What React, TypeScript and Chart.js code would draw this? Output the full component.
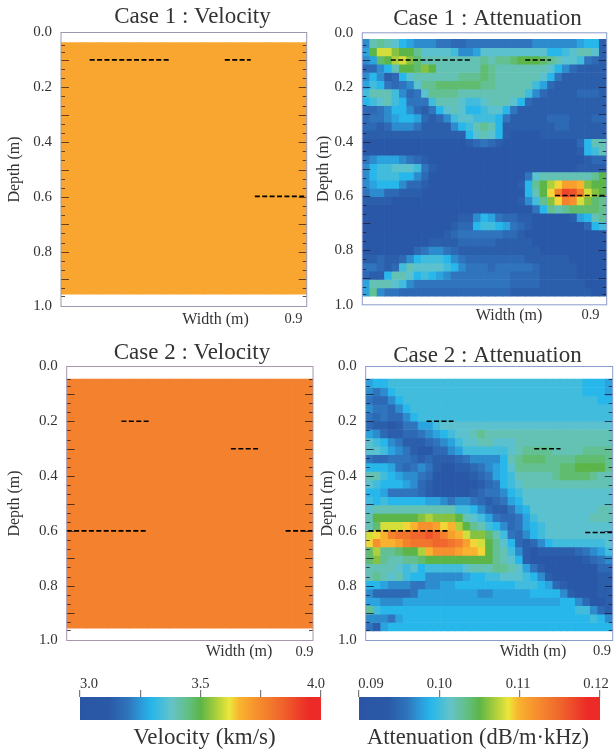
import React, { useEffect, useRef } from "react";
import { Chart, registerables } from "chart.js";

Chart.register(...registerables);

const SERIF = "'Liberation Serif', serif";
const INK = "#333333";

// Colour scale (fraction of range -> colour)
const rampStops = [0, 0.12, 0.2, 0.26, 0.3, 0.38, 0.45, 0.5, 0.56, 0.62, 0.66, 0.72, 0.83, 0.95, 1];
const rampColors = ["#2a55a5", "#2a59a8", "#2f74bc", "#2a9fdc", "#28b7ea", "#65c3c8", "#62bf82", "#5cb548", "#a5cd3c", "#ece63b", "#f9b52f", "#f7962e", "#f0682c", "#ec2a27", "#ec2a27"];

const velocityTicks = [3, 3.5, 4];
const velocityTickLabels = ["3.0", "3.5", "4.0"];
const attenuationTicks = [90, 100, 110, 120];
const attenuationTickLabels = ["0.09", "0.10", "0.11", "0.12"];

const yTickStep = 0.2;
const minorDepths = [0.045, 0.07, 0.133, 0.167, 0.233, 0.267, 0.333, 0.367, 0.433, 0.467, 0.533, 0.567, 0.633, 0.667, 0.733, 0.767, 0.833, 0.867, 0.933, 0.96];
const majorDepths = [0.1, 0.2, 0.3, 0.4, 0.5, 0.6, 0.7, 0.8, 0.9];

// Velocity (km/s), column by column across the width
const case1Velocity = [[3.69, 3.69, 3.69, 3.69, 3.69, 3.69, 3.69, 3.69, 3.69, 3.69, 3.69, 3.69]];
const case2Velocity = [[3.77, 3.77, 3.77, 3.77, 3.77, 3.77, 3.77, 3.77, 3.77, 3.77, 3.77, 3.77]];

// Attenuation, in 0.001 dB/m·kHz, row by row from the top
const case1Attenuation = [
  [97,102,103,102,101, 99,98,97,97,97, 96,96,95,95,96, 96,96,96,96,96, 96,96,96,97,97, 97,97,97,97,98, 99,99,94],
  [98,105,108,108,106, 105,105,103,101,101, 101,101,100,97,97, 98,101,101,101,101, 101,101,101,101,101, 99,99,100,101,102, 102,101,94],
  [97,98,104,105,107, 108,106,104,102,102, 102,102,102,102,102, 102,103,102,103,103, 104,105,105,105,104, 103,102,101,101,100, 96,95,94],
  [95,95,97,99,102, 105,105,104,106,105, 102,102,102,102,102, 102,104,103,102,102, 102,102,102,102,102, 101,99,97,95,94, 94,94,94],
  [97,99,97,94,95, 99,101,102,102,102, 102,102,102,103,103, 103,104,103,102,102, 102,102,102,102,101, 99,96,94,94,94, 94,94,94],
  [98,100,99,96,95, 96,97,101,103,103, 104,104,104,104,104, 104,103,103,102,102, 102,102,102,100,98, 95,94,94,94,94, 94,94,94],
  [100,102,102,102,100, 97,95,96,101,103, 103,103,103,102,102, 102,102,102,102,102, 102,102,100,97,95, 94,94,94,94,95, 95,95,94],
  [99,100,101,102,100, 99,96,96,96,100, 102,102,102,101,100, 100,101,102,102,102, 101,99,95,94,94, 94,94,94,94,94, 94,94,94],
  [95,95,96,97,99, 99,97,95,94,96, 99,101,102,101,99, 99,100,101,101,99, 96,94,94,94,94, 94,94,94,94,94, 94,94,94],
  [95,96,96,97,98, 99,99,98,95,94, 95,97,100,101,101, 100,100,100,99,96, 94,94,94,94,94, 95,95,95,94,94, 94,95,95],
  [95,95,94,95,97, 97,97,96,94,94, 94,94,97,99,100, 102,103,102,99,94, 94,94,94,94,94, 94,95,95,94,94, 94,94,94],
  [94,94,94,94,94, 94,94,94,94,94, 94,94,94,94,99, 101,102,101,99,94, 93,93,93,93,94, 94,94,94,94,94, 94,94,94],
  [93,93,93,93,93, 93,93,93,93,93, 93,93,93,93,94, 95,96,95,94,93, 93,93,93,93,93, 93,93,93,93,95, 99,102,102],
  [93,93,93,93,93, 93,93,93,93,93, 93,93,93,92,92, 92,92,92,92,92, 92,93,93,93,93, 93,93,93,93,94, 99,100,102],
  [96,97,98,98,98, 97,96,95,94,93, 93,92,92,92,92, 92,92,92,92,92, 92,93,93,93,93, 93,93,93,93,93, 94,95,95],
  [97,99,100,100,101, 101,101,100,96,94, 93,92,92,92,92, 92,92,92,92,92, 92,92,92,93,93, 93,93,93,93,94, 94,94,94],
  [97,99,100,100,100, 99,99,97,95,93, 92,92,92,92,92, 92,92,92,92,92, 92,92,96,101,102, 102,102,102,102,102, 102,103,105],
  [97,98,99,99,99, 97,95,95,94,92, 92,92,92,92,92, 92,92,92,92,92, 92,94,99,103,105, 107,109,111,111,110, 106,105,105],
  [96,97,97,95,95, 94,94,94,93,92, 92,92,92,92,92, 92,92,92,92,92, 92,93,99,102,105, 109,113,117,116,113, 108,106,105],
  [94,94,94,94,93, 93,93,93,93,93, 93,93,93,93,93, 93,93,93,93,93, 93,94,97,100,103, 106,109,113,112,108, 106,104,103],
  [92,92,92,92,92, 92,92,92,92,92, 92,92,92,92,92, 92,92,92,92,92, 93,93,93,96,99, 103,102,103,104,104, 104,104,103],
  [92,92,92,92,92, 92,92,92,92,92, 92,92,92,94,94, 97,99,98,96,95, 95,94,94,93,93, 93,93,93,94,98, 99,102,103],
  [92,92,92,92,92, 92,92,92,92,92, 93,93,94,95,95, 99,100,100,99,98, 96,95,94,93,93, 93,93,93,93,93, 95,99,100],
  [93,93,93,93,93, 93,93,93,93,93, 93,94,95,96,96, 96,96,96,96,95, 95,94,93,93,93, 93,93,93,93,93, 93,93,93],
  [93,93,93,93,93, 93,93,93,93,94, 94,94,94,95,95, 95,95,95,94,94, 94,94,94,93,93, 93,93,93,93,93, 93,93,93],
  [93,93,93,93,93, 93,93,95,96,97, 97,96,95,94,94, 94,94,94,94,94, 94,94,94,94,93, 93,93,93,93,93, 93,93,93],
  [94,94,95,94,94, 95,97,99,100,100, 100,99,97,96,95, 95,95,95,95,95, 95,95,94,94,94, 94,94,94,93,93, 93,93,93],
  [96,96,95,94,95, 100,102,101,101,101, 101,100,99,97,96, 96,96,95,96,96, 96,96,96,95,94, 94,94,94,94,93, 93,93,93],
  [95,94,94,99,102, 102,101,99,100,99, 98,97,96,96,96, 96,96,96,96,96, 95,95,95,95,94, 94,94,94,94,93, 93,93,93],
  [98,102,102,102,101, 100,97,96,96,96, 96,96,96,96,96, 96,96,96,96,96, 95,95,95,95,94, 94,94,94,94,94, 93,93,93],
  [98,103,97,96,96, 95,95,95,95,95, 95,95,95,95,95, 95,95,95,95,95, 94,94,94,94,94, 94,94,94,94,94, 94,93,93],
];

const case2Attenuation = [
  [98,99,99,100,100, 100,100,100,100,100, 100,100,100,100,100, 100,100,100,100,100, 100,100,100,100,100, 100,100,100,100,99, 99,99,98],
  [97,96,97,99,100, 100,100,100,100,100, 100,100,100,100,100, 100,100,100,100,100, 100,100,100,100,100, 100,100,100,100,99, 99,99,98],
  [96,95,95,97,99, 100,100,100,100,100, 100,100,100,100,100, 100,100,100,100,100, 100,100,100,100,100, 100,100,100,100,100, 100,99,99],
  [97,96,96,95,97, 99,100,100,100,100, 100,100,100,100,100, 100,100,100,100,100, 100,100,100,100,100, 100,100,100,100,100, 100,100,100],
  [96,95,96,95,95, 97,99,100,100,100, 100,100,100,100,100, 100,100,100,100,100, 100,100,100,100,100, 100,100,100,100,100, 100,100,100],
  [95,94,94,93,94, 96,96,98,98,100, 101,101,101,101,101, 101,101,101,101,101, 101,101,101,101,101, 101,101,101,101,101, 101,101,101],
  [98,97,95,94,94, 95,95,96,97,98, 99,100,101,101,102, 103,102,102,102,102, 102,102,102,102,102, 102,102,102,102,102, 102,102,102],
  [101,100,99,97,96, 94,94,94,95,96, 97,98,100,101,101, 102,102,101,101,101, 102,102,102,102,102, 102,102,102,102,102, 102,102,102],
  [101,101,100,98,97, 96,94,93,93,95, 95,97,98,100,100, 100,100,100,100,101, 102,103,103,103,103, 102,102,102,102,103, 103,103,103],
  [96,95,95,96,96, 96,95,94,95,94, 94,94,95,96,97, 97,97,97,99,102, 103,104,104,104,103, 103,103,103,104,104, 104,104,103],
  [99,99,99,98,96, 95,96,97,96,94, 93,93,94,94,95, 96,97,98,99,101, 103,103,103,103,103, 103,104,104,105,105, 105,105,103],
  [102,102,100,99,98, 97,97,96,95,93, 93,92,92,93,94, 95,96,98,99,100, 102,102,102,102,102, 103,104,104,104,104, 103,102,102],
  [101,100,99,99,99, 98,97,95,94,93, 92,92,92,92,93, 94,95,96,99,100, 101,102,102,102,102, 102,102,102,102,102, 102,102,102],
  [99,99,98,96,96, 96,96,95,94,93, 93,93,93,93,94, 95,96,96,97,99, 100,101,101,101,101, 101,101,101,101,101, 101,101,101],
  [100,99,100,99,99, 99,99,99,98,98, 97,96,97,97,96, 95,94,95,96,98, 99,101,101,101,101, 101,101,101,101,101, 101,101,101],
  [101,102,102,102,102, 102,102,102,102,102, 102,102,100,100,99, 97,95,94,94,96, 98,99,101,101,101, 101,101,101,101,101, 101,102,102],
  [102,105,105,105,105, 105,105,106,107,106, 106,106,105,102,101, 100,98,96,95,95, 96,98,100,101,101, 101,101,101,101,101, 102,102,102],
  [102,104,108,108,108, 109,110,112,112,111, 109,110,107,105,103, 102,100,99,97,95, 96,98,99,100,101, 101,101,101,101,101, 101,101,101],
  [108,109,110,113,114, 114,115,115,116,115, 113,111,110,108,106, 106,104,102,100,96, 95,97,99,100,101, 101,101,101,101,101, 101,101,101],
  [109,112,110,110,111, 113,114,114,114,115, 115,114,113,111,109, 108,105,103,101,99, 95,94,95,97,99, 100,100,100,100,100, 100,100,101],
  [104,107,103,103,104, 105,105,107,110,112, 112,112,111,110,110, 109,105,103,102,100, 97,94,93,94,94, 94,94,94,95,96, 97,98,100],
  [104,106,103,102,102, 103,103,104,105,105, 105,105,105,105,105, 105,105,103,102,101, 99,94,93,93,92, 92,92,92,93,94, 95,96,97],
  [102,102,102,102,101, 100,101,99,100,100, 100,100,100,101,102, 102,102,103,103,102, 101,98,96,94,93, 92,92,92,92,93, 93,95,95],
  [102,103,102,101,102, 100,99,99,97,97, 97,97,97,98,99, 99,100,100,101,101, 101,100,99,97,94, 93,93,93,93,93, 93,94,94],
  [99,99,98,97,97, 97,96,96,97,97, 98,98,99,99,99, 99,99,99,99,99, 100,100,100,99,98, 95,94,93,93,93, 93,94,94],
  [97,95,95,95,95, 95,96,98,98,98, 98,98,98,98,98, 97,97,98,98,98, 98,98,99,99,99, 99,97,94,93,93, 93,94,94],
  [98,98,97,97,97, 98,98,98,98,98, 98,98,98,98,98, 98,98,98,98,98, 98,98,98,98,98, 98,99,99,97,95, 93,93,94],
  [103,100,99,99,99, 99,99,99,99,99, 99,99,99,99,99, 99,99,99,99,99, 99,99,99,99,99, 99,99,99,100,100, 97,95,94],
  [97,97,97,96,98, 99,99,99,99,99, 99,99,99,99,99, 99,99,99,99,99, 99,99,99,99,99, 99,99,99,99,99, 100,99,97],
  [96,94,98,99,99, 99,99,99,99,99, 99,99,99,99,99, 99,99,99,99,99, 99,99,99,99,99, 99,99,99,99,99, 99,99,99],
];

// Target layers: width range (m) and depth (m)
const case1LayerWidths = [[0.105, 0.4], [0.6, 0.695], [0.71, 0.9]];
const case1LayerDepths = [0.1, 0.1, 0.598];
const case2VelocityLayerWidths = [[0.2, 0.3], [0.6, 0.7], [0, 0.29], [0.8, 0.9]];
const case2VelocityLayerDepths = [0.2, 0.3, 0.6, 0.6];
const case2LayerWidths = [[0.222, 0.32], [0.614, 0.71], [0.01, 0.303], [0.8, 0.9]];
const case2LayerDepths = [0.2, 0.3, 0.6, 0.606];

function hexToRgb(h: string) {
  return [1, 3, 5].map((i) => parseInt(h.slice(i, i + 2), 16));
}

function rampColor(t: number) {
  const v = Math.max(0, Math.min(1, t));
  let i = 0;
  while (i < rampStops.length - 2 && v > rampStops[i + 1]) i++;
  const f = (v - rampStops[i]) / (rampStops[i + 1] - rampStops[i]);
  const a = hexToRgb(rampColors[i]);
  const b = hexToRgb(rampColors[i + 1]);
  const c = a.map((x, k) => Math.round(x + (b[k] - x) * f));
  return `rgb(${c[0]},${c[1]},${c[2]})`;
}

type Txt = { text: string; x: number; y: number; size: number; color?: string };

function drawTexts(ctx: CanvasRenderingContext2D, items: Txt[]) {
  ctx.save();
  ctx.textAlign = "center";
  ctx.textBaseline = "middle";
  for (const t of items) {
    ctx.font = `${t.size}px ${SERIF}`;
    ctx.fillStyle = t.color || INK;
    ctx.fillText(t.text, t.x, t.y);
  }
  ctx.restore();
}

type PanelCfg = {
  rows: number[][];
  top: number;
  bottom: number;
  range: [number, number];
  box: { l: number; t: number; r: number; b: number };
  frame: string;
  tickColor: string;
  depthLeft: number;
  texts: Txt[];
  layerWidths: number[][];
  layerDepths: number[];
};

function panelConfig(p: PanelCfg) {
  const nRows = p.rows.length;
  const cols = p.rows[0].map((_, i) => String(i));
  const rowH = (p.bottom - p.top) / nRows;
  const datasets: any[] = p.rows.map((row, j) => ({
    type: "bar",
    xAxisID: "x",
    yAxisID: "y",
    order: 2,
    grouped: false,
    barPercentage: 1,
    categoryPercentage: 1,
    borderWidth: 0,
    data: row.map(() => [p.top + j * rowH, p.top + (j + 1) * rowH]),
    backgroundColor: row.map((v) => rampColor((v - p.range[0]) / (p.range[1] - p.range[0]))),
  }));
  p.layerWidths.forEach((w, i) => {
    datasets.push({
      type: "line",
      xAxisID: "w",
      yAxisID: "y",
      order: 1,
      data: [{ x: w[0], y: p.layerDepths[i] }, { x: w[1], y: p.layerDepths[i] }],
      borderColor: "#000000",
      borderWidth: 1.6,
      borderDash: [5, 2.4],
      pointRadius: 0,
      clip: false,
    });
  });
  const overlay = {
    id: "panelOverlay",
    afterDatasetsDraw(chart: any) {
      const { ctx, chartArea: a, scales } = chart;
      ctx.save();
      ctx.strokeStyle = p.tickColor;
      ctx.lineWidth = 1;
      const mark = (d: number, len: number) => {
        const y = Math.round(scales.y.getPixelForValue(d)) + 0.5;
        ctx.beginPath();
        ctx.moveTo(a.left, y);
        ctx.lineTo(a.left + len, y);
        ctx.moveTo(a.right, y);
        ctx.lineTo(a.right - len, y);
        ctx.stroke();
      };
      minorDepths.forEach((d) => mark(d, 4));
      majorDepths.forEach((d) => mark(d, 8));
      ctx.strokeStyle = p.frame;
      ctx.lineWidth = 1;
      ctx.strokeRect(a.left, a.top, a.right - a.left, a.bottom - a.top);
      ctx.restore();
      drawTexts(ctx, p.texts);
    },
  };
  return {
    type: "bar",
    data: { labels: cols, datasets },
    plugins: [overlay],
    options: {
      responsive: false,
      animation: false,
      events: [],
      layout: { padding: { left: p.depthLeft, top: p.box.t, right: 614 - p.box.r, bottom: 751 - p.box.b } },
      plugins: { legend: { display: false }, title: { display: false }, tooltip: { enabled: false } },
      scales: {
        x: { type: "category", display: false, offset: true, grid: { display: false } },
        w: { type: "linear", axis: "x", display: false, offset: false, min: 0, max: 0.9, grid: { display: false } },
        y: {
          type: "linear",
          position: "left",
          reverse: true,
          min: 0,
          max: 1,
          afterFit(s: any) {
            s.width = p.box.l - p.depthLeft;
          },
          grid: { display: false, drawTicks: false },
          border: { display: false },
          ticks: {
            stepSize: yTickStep,
            padding: 9,
            color: INK,
            font: { family: SERIF, size: 15 },
            callback: (v: number) => v.toFixed(1),
          },
          title: { display: true, text: "Depth (m)", color: INK, padding: 0, font: { family: SERIF, size: 16 } },
        },
      },
    },
  };
}

type BarCfg = {
  min: number;
  max: number;
  step: number;
  box: { l: number; t: number; r: number; b: number };
  ticks: number[];
  labels: string[];
  labelShift: number[];
  title: string;
  titleX: number;
  titleSize: number;
};

function colorBarConfig(c: BarCfg) {
  const overlay = {
    id: "barOverlay",
    afterDatasetsDraw(chart: any) {
      const x = chart.scales.x;
      const items: Txt[] = c.ticks.map((v, i) => ({
        text: c.labels[i],
        x: x.getPixelForValue(v) + c.labelShift[i],
        y: 684,
        size: 14.5,
      }));
      items.push({ text: c.title, x: c.titleX, y: 738, size: c.titleSize });
      drawTexts(chart.ctx, items);
    },
  };
  return {
    type: "bar",
    data: {
      labels: [c.title],
      datasets: [
        {
          data: [[c.min, c.max]],
          barPercentage: 1,
          categoryPercentage: 1,
          borderWidth: 0,
          backgroundColor(ctx: any) {
            const a = ctx.chart.chartArea;
            if (!a) return rampColors[0];
            const g = ctx.chart.ctx.createLinearGradient(a.left, 0, a.right, 0);
            rampStops.forEach((s, i) => g.addColorStop(s, rampColors[i]));
            return g;
          },
        },
      ],
    },
    plugins: [overlay],
    options: {
      indexAxis: "y",
      responsive: false,
      animation: false,
      events: [],
      layout: { padding: { left: c.box.l, top: c.box.t - 7, right: 614 - c.box.r, bottom: 751 - c.box.b } },
      plugins: { legend: { display: false }, title: { display: false }, tooltip: { enabled: false } },
      scales: {
        y: { type: "category", display: false, grid: { display: false } },
        x: {
          type: "linear",
          position: "top",
          min: c.min,
          max: c.max,
          afterFit(s: any) {
            s.height = 7;
          },
          border: { display: false },
          grid: { drawOnChartArea: false, drawTicks: true, tickLength: 7, color: "#7a7a7a", lineWidth: 1.2 },
          ticks: { display: false, stepSize: c.step },
        },
      },
    },
  };
}

const configs: any[] = [
  panelConfig({
    rows: case1Velocity,
    top: 0.037,
    bottom: 0.955,
    range: [3, 4],
    box: { l: 61, t: 32.5, r: 306.7, b: 306.5 },
    frame: "#9b97ad",
    tickColor: "rgba(70,45,30,0.85)",
    depthLeft: 5,
    layerWidths: case1LayerWidths,
    layerDepths: case1LayerDepths,
    texts: [
      { text: "Case 1 : Velocity", x: 192.5, y: 17, size: 23 },
      { text: "Width (m)", x: 215.5, y: 320, size: 16 },
      { text: "0.9", x: 293.5, y: 319, size: 14.5 },
    ],
  }),
  panelConfig({
    rows: case1Attenuation,
    top: 0.024,
    bottom: 0.968,
    range: [90, 120],
    box: { l: 362.3, t: 32.8, r: 606.7, b: 304.8 },
    frame: "#8a9ccc",
    tickColor: "rgba(30,35,60,0.85)",
    depthLeft: 314,
    layerWidths: case1LayerWidths,
    layerDepths: case1LayerDepths,
    texts: [
      { text: "Case 1 : Attenuation", x: 487.5, y: 19, size: 23 },
      { text: "Width (m)", x: 509, y: 316, size: 16 },
      { text: "0.9", x: 590.5, y: 315, size: 14.5 },
    ],
  }),
  panelConfig({
    rows: case2Velocity,
    top: 0.046,
    bottom: 0.955,
    range: [3, 4],
    box: { l: 66.7, t: 366.5, r: 313, b: 640.5 },
    frame: "#a796ad",
    tickColor: "rgba(60,35,25,0.85)",
    depthLeft: 5,
    layerWidths: case2VelocityLayerWidths,
    layerDepths: case2VelocityLayerDepths,
    texts: [
      { text: "Case 2 : Velocity", x: 192, y: 352.5, size: 23 },
      { text: "Width (m)", x: 239, y: 652, size: 16 },
      { text: "0.9", x: 304.5, y: 652, size: 14.5 },
    ],
  }),
  panelConfig({
    rows: case2Attenuation,
    top: 0.046,
    bottom: 0.965,
    range: [90, 120],
    box: { l: 365.7, t: 366.5, r: 612.7, b: 640.5 },
    frame: "#8a9ccc",
    tickColor: "rgba(30,35,60,0.85)",
    depthLeft: 318,
    layerWidths: case2LayerWidths,
    layerDepths: case2LayerDepths,
    texts: [
      { text: "Case 2 : Attenuation", x: 487.5, y: 356, size: 23 },
      { text: "Width (m)", x: 533, y: 652, size: 16 },
      { text: "0.9", x: 602, y: 651, size: 14.5 },
    ],
  }),
  colorBarConfig({
    min: 3,
    max: 4,
    step: 0.25,
    box: { l: 80, t: 697, r: 321, b: 720 },
    ticks: velocityTicks,
    labels: velocityTickLabels,
    labelShift: [9, 0, -5],
    title: "Velocity (km/s)",
    titleX: 204.5,
    titleSize: 23,
  }),
  colorBarConfig({
    min: 90,
    max: 120,
    step: 10,
    box: { l: 359, t: 697, r: 600, b: 720 },
    ticks: attenuationTicks,
    labels: attenuationTickLabels,
    labelShift: [12, 0, -1.5, -4],
    title: "Attenuation (dB/m·kHz)",
    titleX: 478,
    titleSize: 22.5,
  }),
];

function Layer({ config }: { config: any }) {
  const ref = useRef<HTMLCanvasElement | null>(null);
  useEffect(() => {
    const chart = new Chart(ref.current as HTMLCanvasElement, config);
    return () => chart.destroy();
  }, [config]);
  return (
    <canvas
      ref={ref}
      width={614}
      height={751}
      style={{ position: "absolute", left: 0, top: 0, width: 614, height: 751, filter: "blur(0.45px)" }}
    />
  );
}

export default function App() {
  return (
    <div style={{ position: "absolute", left: 0, top: 0, width: 614, height: 751, background: "#ffffff", overflow: "hidden" }}>
      {configs.map((c, i) => (
        <Layer key={i} config={c} />
      ))}
    </div>
  );
}
